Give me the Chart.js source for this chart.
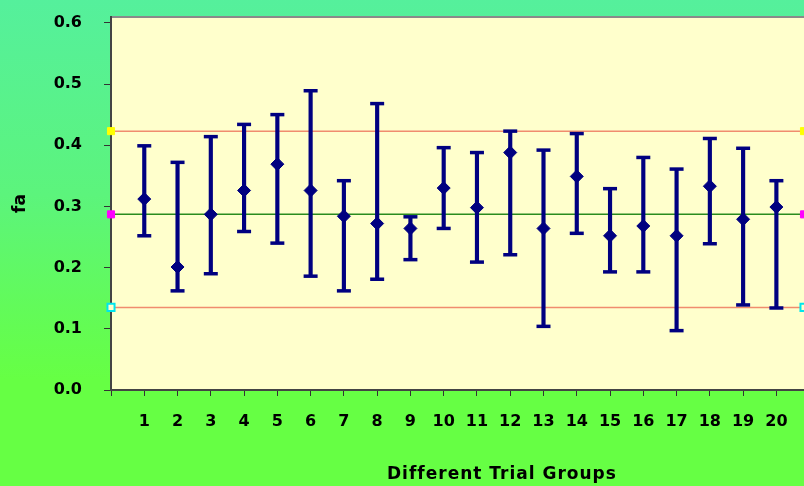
<!DOCTYPE html>
<html>
<head>
<meta charset="utf-8">
<script src="https://cdn.jsdelivr.net/npm/chart.js@4.4.1/dist/chart.umd.min.js"></script>
<style>
  html, body { margin: 0; padding: 0; }
  body {
    width: 804px; height: 486px; overflow: hidden; position: relative;
    background: linear-gradient(to bottom, #55f09c 0%, #5cf47c 40%, #66ff44 78%, #66ff44 100%);
  }
  #wrap { position: absolute; left: 0; top: 0; width: 804px; height: 486px; }
  #xTitle {
    position: absolute; left: 387px; top: 463px;
    font: bold 17px "Comic Sans MS", "DejaVu Sans", sans-serif; color: #000;
    letter-spacing: 1px; white-space: nowrap;
  }
</style>
</head>
<body>
<div id="wrap"><canvas id="errChart"></canvas></div>
<div id="xTitle">Different Trial Groups</div>
<script>
// trial groups and fa values
const groups = [1, 2, 3, 4, 5, 6, 7, 8, 9, 10, 11, 12, 13, 14, 15, 16, 17, 18, 19, 20];
const means = [0.312, 0.201, 0.287, 0.326, 0.369, 0.326, 0.284, 0.272, 0.264, 0.330,
               0.298, 0.388, 0.264, 0.349, 0.252, 0.268, 0.252, 0.333, 0.279, 0.299];
const upper = [0.399, 0.372, 0.414, 0.434, 0.450, 0.489, 0.342, 0.468, 0.283, 0.396,
               0.388, 0.423, 0.392, 0.419, 0.329, 0.380, 0.361, 0.411, 0.395, 0.342];
const lower = [0.252, 0.162, 0.190, 0.259, 0.240, 0.186, 0.162, 0.181, 0.213, 0.264,
               0.209, 0.221, 0.104, 0.256, 0.193, 0.193, 0.097, 0.239, 0.139, 0.134];
const refLevels = [0.423, 0.287, 0.135];
const yTicks = [0.0, 0.1, 0.2, 0.3, 0.4, 0.5, 0.6];
const xTicks = [0, 1, 2, 3, 4, 5, 6, 7, 8, 9, 10, 11, 12, 13, 14, 15, 16, 17, 18, 19, 20];

const X_MAX = 20.83;
const Y_MAX = 0.6095;
const navy = "#000080";
const tickFont = { family: '"Comic Sans MS", "DejaVu Sans", sans-serif', size: 16, weight: "bold" };

const refLine = (level, color, pointFill, pointBorder, bw) => ({
  type: "line",
  data: [{ x: 0, y: level }, { x: X_MAX, y: level }],
  borderColor: color,
  borderWidth: 1.5,
  pointStyle: "rect",
  pointRadius: 5,
  pointBackgroundColor: pointFill,
  pointBorderColor: pointBorder,
  pointBorderWidth: bw,
  clip: false,
  order: 4
});

const plotBg = {
  id: "plotBg",
  beforeDraw(chart) {
    const { ctx, chartArea: a } = chart;
    ctx.save();
    ctx.fillStyle = "#ffffcc";
    ctx.fillRect(a.left, a.top, a.right - a.left, a.bottom - a.top);
    ctx.strokeStyle = "#8a8a8a";
    ctx.lineWidth = 2;
    ctx.beginPath();
    ctx.moveTo(a.left, a.top);
    ctx.lineTo(a.right, a.top);
    ctx.stroke();
    ctx.restore();
  }
};

let ctx = document.getElementById("errChart").getContext("2d");
let myChart = new Chart(ctx, {
  type: "scatter",
  data: {
    datasets: [
      {
        type: "scatter",
        data: groups.map((g, i) => ({ x: g, y: means[i] })),
        pointStyle: "rectRot",
        pointRadius: 6.5,
        backgroundColor: navy,
        borderColor: navy,
        borderWidth: 1,
        order: 0
      },
      {
        type: "scatter",
        data: groups.map((g, i) => ({ x: g, y: upper[i] })).concat(groups.map((g, i) => ({ x: g, y: lower[i] }))),
        pointStyle: "line",
        pointRadius: 7,
        borderColor: navy,
        borderWidth: 3.5,
        order: 1
      },
      {
        type: "bar",
        data: groups.map((g, i) => ({ x: g, y: [lower[i], upper[i]] })),
        backgroundColor: navy,
        barThickness: 3.5,
        order: 2
      },
      refLine(refLevels[0], "#f08c6e", "#ffff00", "#ffff00", 1),
      refLine(refLevels[1], "#2a8c1e", "#ff00ff", "#ff00ff", 1),
      refLine(refLevels[2], "#f08c6e", "#ffffcc", "#00e5ee", 2)
    ]
  },
  options: {
    responsive: true,
    maintainAspectRatio: false,
    animation: false,
    layout: { autoPadding: false, padding: { top: 17, left: 0, right: 0, bottom: 0 } },
    plugins: { legend: { display: false }, tooltip: { enabled: false } },
    scales: {
      x: {
        type: "linear",
        offset: false,
        min: 0,
        max: X_MAX,
        afterBuildTicks: (s) => { s.ticks = xTicks.map(v => ({ value: v })); },
        afterFit: (s) => { s.height = 96; s.paddingRight = 0; s.paddingLeft = 0; },
        ticks: {
          callback: (v) => (v === 0 ? "" : v),
          color: "#000",
          font: tickFont,
          padding: 16,
          maxRotation: 0,
          autoSkip: false
        },
        grid: { offset: false, drawOnChartArea: false, drawTicks: true, tickLength: 6, color: "#333" },
        border: { display: true, color: "#444", width: 2 }
      },
      y: {
        min: 0,
        max: Y_MAX,
        afterBuildTicks: (s) => { s.ticks = yTicks.map(v => ({ value: v })); },
        afterFit: (s) => { s.width = 111; s.paddingTop = 0; s.paddingBottom = 0; },
        ticks: {
          callback: (v) => v.toFixed(1),
          color: "#000",
          font: tickFont,
          padding: 22
        },
        grid: { drawOnChartArea: false, drawTicks: true, tickLength: 7, color: "#333" },
        border: { display: true, color: "#444", width: 2 },
        title: {
          display: true,
          text: "fa",
          color: "#000",
          font: { family: '"Comic Sans MS", "DejaVu Sans", sans-serif', size: 17, weight: "bold" },
          padding: { top: 10, bottom: 0 }
        }
      }
    }
  },
  plugins: [plotBg]
});
</script>
</body>
</html>
